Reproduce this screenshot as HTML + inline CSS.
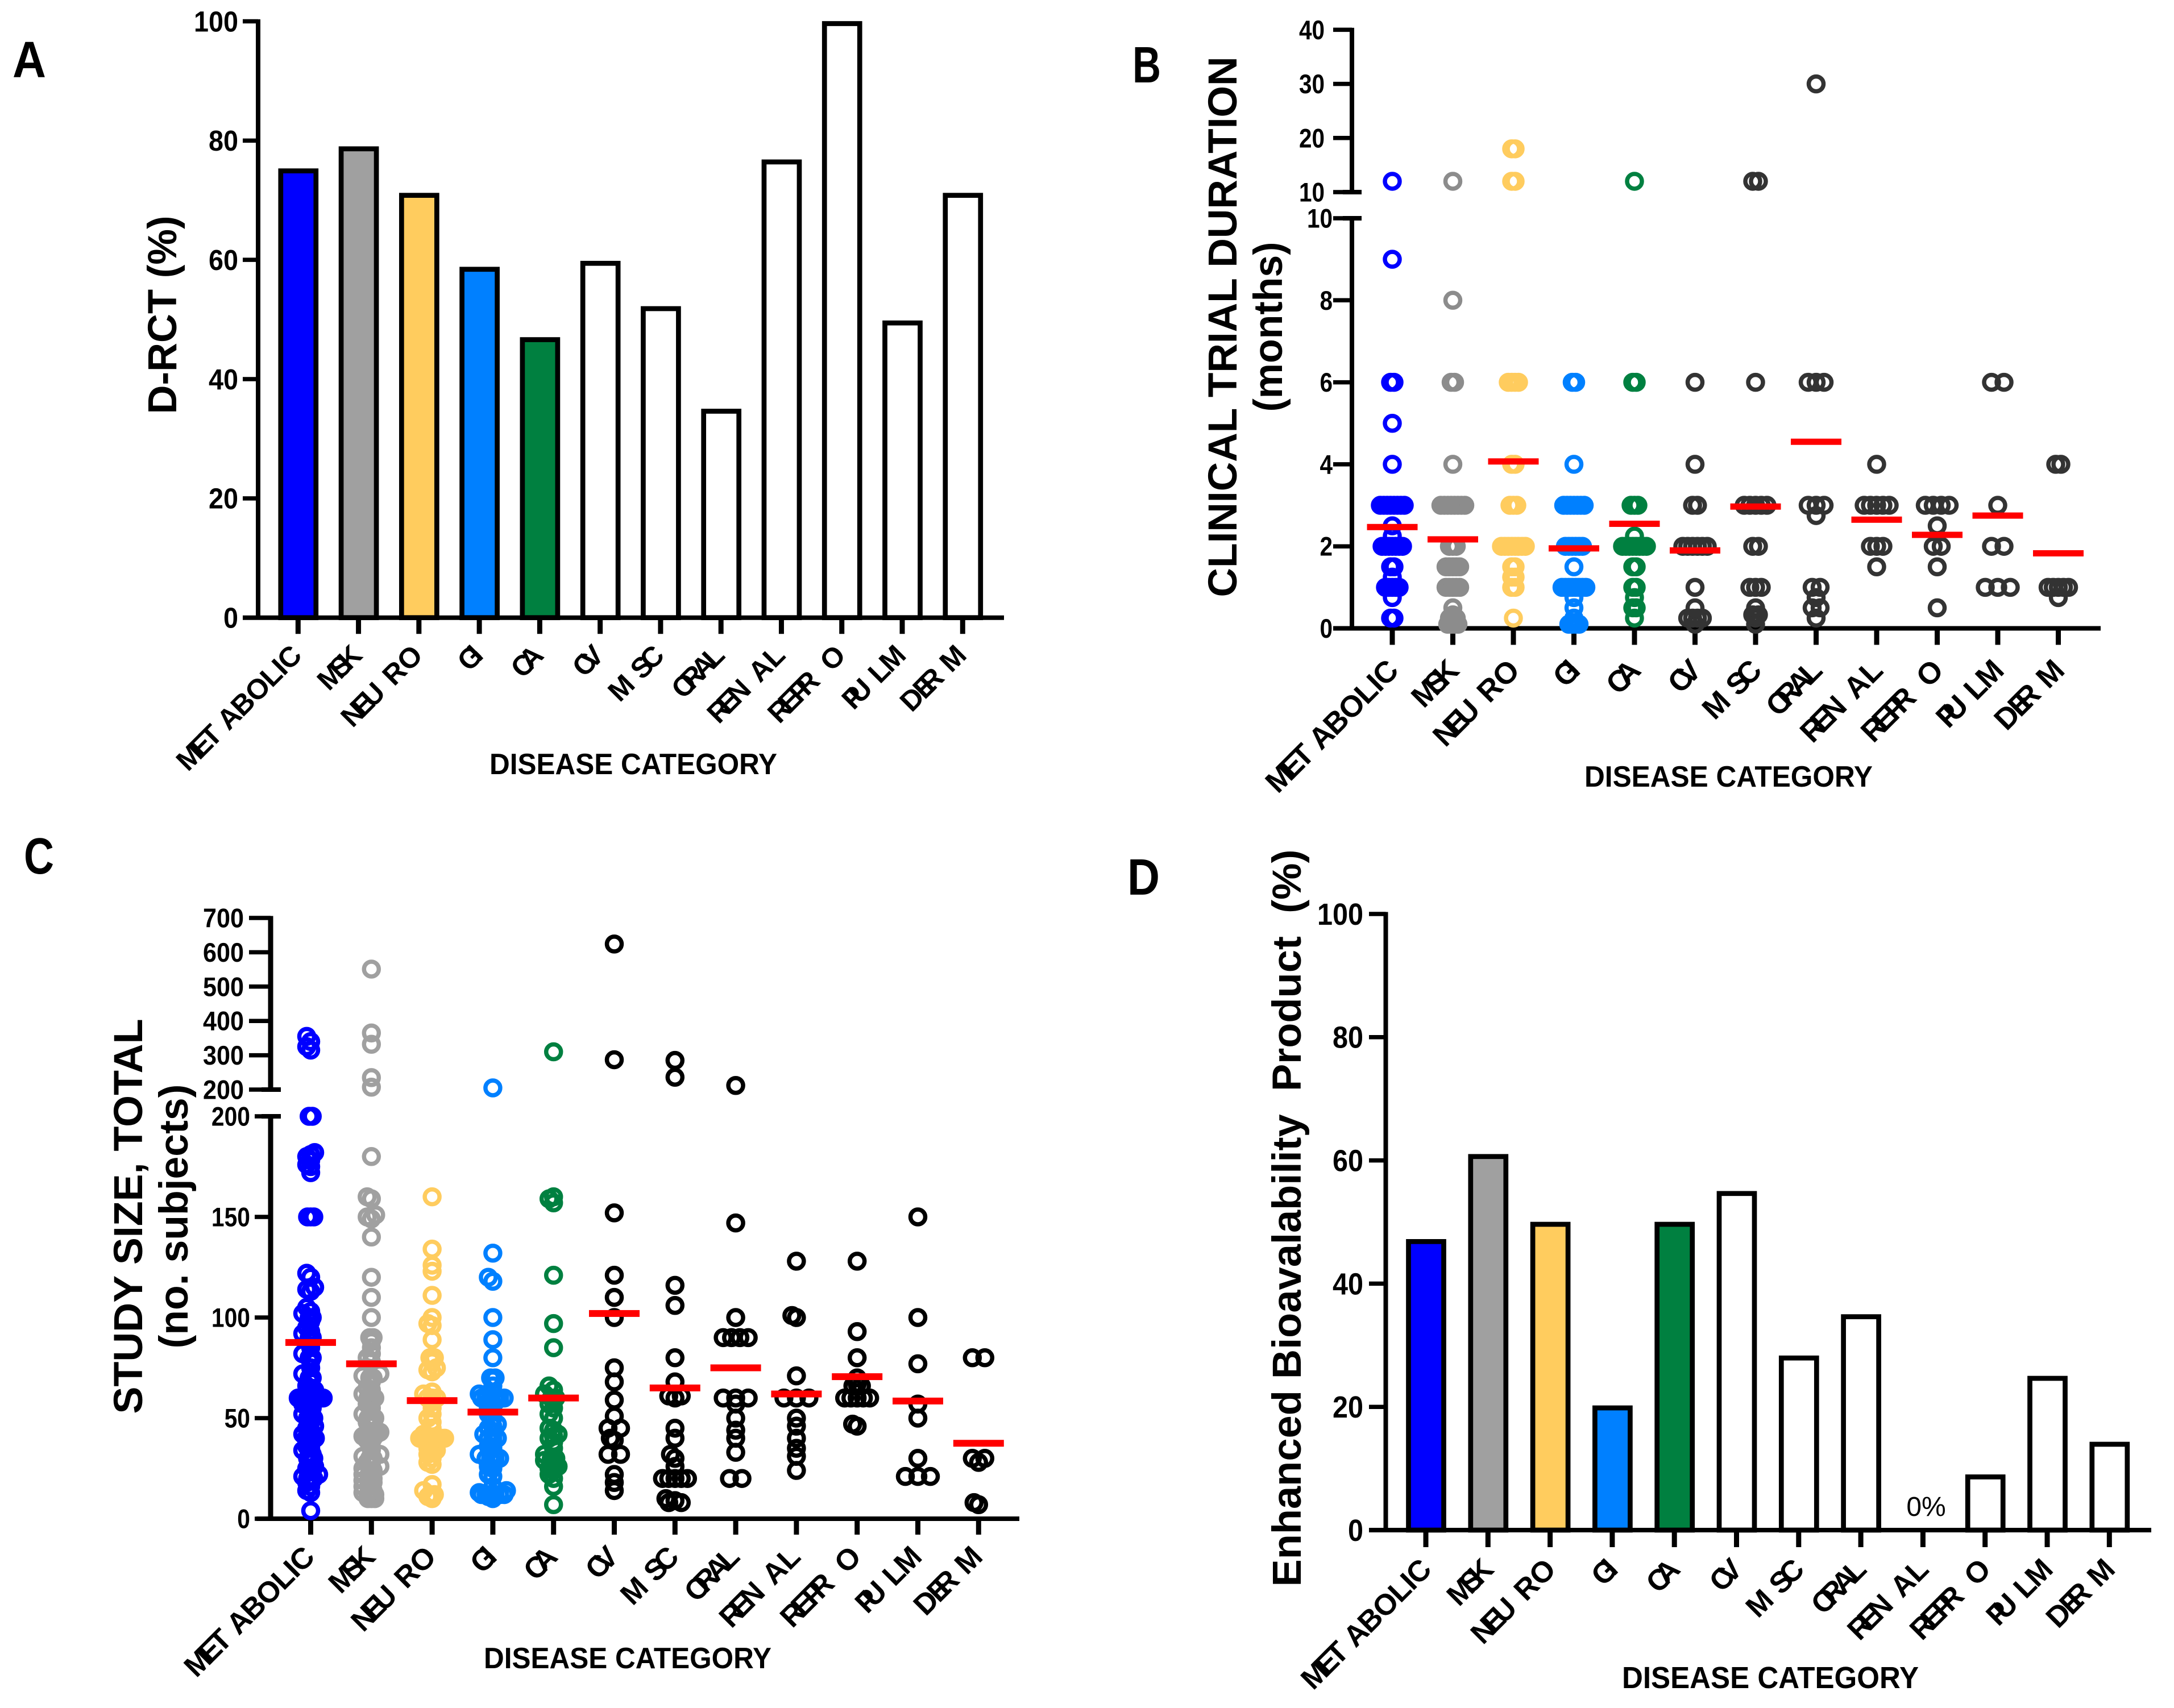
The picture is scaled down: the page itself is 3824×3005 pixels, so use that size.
<!DOCTYPE html>
<html lang="en">
<head>
<meta charset="utf-8">
<title>Clinical trial characteristics by disease category</title>
<style>
html,body{margin:0;padding:0;background:#fff;}
svg{display:block;font-family:"Liberation Sans",sans-serif;}
text{white-space:pre;}
</style>
</head>
<body>
<svg id="figure" xmlns="http://www.w3.org/2000/svg" width="3824" height="3005" viewBox="0 0 3824 3005"></svg>
<script>
// ---------- chart data ----------
const categories = ["MET ABOLIC","MSK","NEU RO","GI","CA","CV","M SC","ORAL","REN AL","REPR O","PU LM","DER M"];

const aValues = [75.3,79,71.2,58.8,47,59.8,52.2,35,76.8,100,49.8,71.2];
const aTicks = [0,20,40,60,80,100];

const dValues = [47.2,61,50,20.2,50,55,28.3,35,0,9,25,14.3];
const dTicks = [0,20,40,60,80,100];

const bTicksLow = [0,2,4,6,8,10];
const bTicksHigh = [10,20,30,40];
const bMeans = [2.47,2.17,4.07,1.95,2.55,1.9,2.97,4.55,2.65,2.28,2.75,1.83];
const bMetabolic = [12,9,6,6,5,4,3,3,3,3,3,3,3,3,2.5,2.25,2,2,2,2,2,2,2,1.5,1.5,1.25,1,1,1,1,1,0.75,0.25,0.25];
const bMsk = [12,8,6,6,4,3,3,3,3,3,3,3,3,2,2,2,1.5,1.5,1.5,1.5,1.5,1,1,1,1,1,0.5,0.33,0.25,0.25,0.25,0.17,0.1,0.1,0.1,0.1];
const bNeuro = [18,18,12,12,6,6,6,6,4,4,3,3,3,2,2,2,2,2,2,2,2,1.5,1.5,1.25,1.25,1,1,0.25];
const bGi = [6,6,4,3,3,3,3,3,3,3,2,2,2,2,2,2,1.5,1,1,1,1,1,1,1,1,0.75,0.5,0.25,0.1,0.1,0.1,0.1];
const bCa = [12,6,6,3,3,3,2.25,2,2,2,2,2,2,2,2,1.5,1.5,1,1,0.75,0.5,0.5,0.25];
const bCv = [6,4,3,3,2,2,2,2,2,2,1,0.5,0.25,0.25,0.25,0.25,0.1];
const bMsc = [12,12,6,3,3,3,3,3,2,2,1,1,1,0.5,0.33,0.33,0.25,0.1];
const bOral = [30,6,6,6,3,3,3,2.75,1,1,0.75,0.5,0.5,0.25];
const bRenal = [4,3,3,3,3,3,2,2,2,1.5];
const bRepro = [3,3,3,3,2.5,2,2,1.5,0.5];
const bPulm = [6,6,3,2,2,1,1,1];
const bDerm = [4,4,1,1,1,1,1,0.75];
const bSeries = [bMetabolic,bMsk,bNeuro,bGi,bCa,bCv,bMsc,bOral,bRenal,bRepro,bPulm,bDerm];

const cTicksLow = [0,50,100,150,200];
const cTicksHigh = [200,300,400,500,600,700];
const cMeans = [87.6,77,58.7,53,60,102,65,75,62,70.6,58.5,37.5];
const cMetabolic = [355,340,325,315,200,200,182,181,180,178,176,175,172,150,150,150,122,120,115,114,113,105,103,102,100,100,98,95,93,92,90,90,88,85,82,80,80,78,75,72,70,70,68,66,65,64,63,62,60,60,60,60,60,60,60,60,60,60,60,60,58,58,57,55,55,52,50,50,50,48,46,45,44,42,40,40,40,40,38,36,35,34,32,32,30,30,30,28,28,26,25,24,22,21,20,20,20,18,16,14,13,4];
const cMsk = [551,365,332,235,207,180,160,159,151,150,149,140,120,110,100,90,90,88,85,82,80,78,72,71,70,70,68,65,64,62,60,60,60,58,57,55,52,50,50,50,48,46,43,42,42,42,42,41,40,40,39,38,34,32,31,30,30,28,27,26,25,24,24,23,22,20,20,19,18,18,17,16,14,14,13,12,12,12,11,11,10,10,10];
const cNeuro = [160,134,126,123,111,100,97,96,89,80,80,78,75,74,73,63,62,60,60,60,58,55,52,50,48,45,42,40,40,40,40,40,40,40,40,38,38,37,36,35,34,33,32,30,28,27,17,14,12,12,11,10];
const cGi = [205,132,120,118,100,89,80,70,70,69,66,63,62,60,60,60,60,60,60,59,58,57,55,54,52,50,47,46,45,43,42,40,40,40,38,36,35,32,30,30,30,30,28,26,25,22,21,16,14,13,12,12,12,12,12,12,11,10];
const cCa = [310,160,159,157,121,97,85,66,64,62,60,60,58,57,55,52,50,45,44,42,41,40,38,35,32,30,30,29,28,28,27,26,25,24,22,20,16,7];
const cCv = [624,287,152,121,110,100,75,68,59,51,45,45,40,39,32,32,22,18,14];
const cMsc = [285,236,116,106,80,68,61,61,60,45,40,32,30,26,20,20,20,20,20,10,9,8,8];
const cOral = [212,147,100,90,90,90,90,60,60,60,57,50,44,40,33,20,20];
const cRenal = [128,101,100,71,60,60,60,50,46,40,35,31,24];
const cRepro = [128,93,80,70,66,66,67,60,60,60,60,60,47,46];
const cPulm = [150,100,77,57,50,30,21,21,21];
const cDerm = [80,80,30,30,28,8,7];
const cSeries = [cMetabolic,cMsk,cNeuro,cGi,cCa,cCv,cMsc,cOral,cRenal,cRepro,cPulm,cDerm];

// ---------- drawing helpers ----------
const NS = "http://www.w3.org/2000/svg";
const svg = document.getElementById("figure");
const labelDx = ["0 -8 -8 0 0 -2 -1 -1 -1 -1","0 -12 -12","0 -10 -10 4 0 0","0 -14","0 -16","0 -16","0 0 0 -10","0 -16 -10 -8","0 -12 -9 6 0 0","0 -10 -8 -16 10 1","0 -18 0 0 -3","0 -4 -17 0 0"];
const barFills = ["#0000ff","#a0a0a0","#ffcc5e","#0080ff","#008040","#fff","#fff","#fff","#fff","#fff","#fff","#fff"];
const ringB = ["#0000ff","#8c8c8c","#ffcc5e","#0080ff","#008040","#333","#333","#333","#333","#333","#333","#333"];
const ringC = ["#0000ff","#a0a0a0","#ffcc5e","#0080ff","#008040","#000","#000","#000","#000","#000","#000","#000"];
const bStep = [6,6,6,6,6,8.6,10,14,11,14,22,9];
const cTieStep = [5.5,6,8,8,8,22,22,22,22,15,22,22];
const cSlotStep = [7,7.5,7.5,8,8,7,8,8,8,8,8,8];

function make(tag, attrs, parent){
  const node = document.createElementNS(NS, tag);
  for (const k in attrs) node.setAttribute(k, attrs[k]);
  parent.appendChild(node);
  return node;
}
function slug(s){ return s.toLowerCase().replace(/[^a-z0-9]+/g,'-').replace(/^-|-$/g,''); }

function group(name, parent){
  const g = make('g', {}, parent);
  
  
  return g;
}
function seg(x1,y1,x2,y2,w,name,parent){
  const l = make('line', {x1:x1,y1:y1,x2:x2,y2:y2,stroke:'#000','stroke-width':w}, parent);
  
  
  return l;
}
function label(x,y,str,size,weight,anchor,name,parent,extra){
  const t = make('text', Object.assign({x:x,y:y,'font-size':size,'font-weight':weight,'text-anchor':anchor,fill:'#000'}, extra||{}), parent);
  t.textContent = str;
  
  
  return t;
}
function panelLetter(x,base,str,len,name,parent){
  return label(x,base,str,90,'bold','start',name,parent,{textLength:len,lengthAdjust:'spacingAndGlyphs'});
}
function vTitle(baseX,centerY,str,size,len,name,parent){
  return label(0,0,str,size,'bold','middle',name,parent,{transform:'translate('+baseX+' '+centerY+') rotate(-90)',textLength:len,lengthAdjust:'spacingAndGlyphs'});
}
function hTitle(x1,x2,base,size,parent){
  return label((x1+x2)/2,base,'DISEASE CATEGORY',size,'bold','middle','x-axis-title',parent,{textLength:x2-x1,lengthAdjust:'spacingAndGlyphs'});
}
function xAxis(p, parent){
  const g = group('x-axis', parent);
  seg(p.xLeft,p.y0,p.xRight,p.y0,8,'x-axis-line',g);
  categories.forEach(function(c,i){
    const x = p.x(i);
    seg(x,p.y0,x,p.y0+p.xTick,9,'x-tick-'+slug(c),g);
    const px = x+p.lblDx, py = p.y0+p.lblDy;
    label(0,0,c,50,'bold','end','category-label-'+slug(c),g,{transform:'translate('+px+' '+py+') rotate(-45) scale('+p.lblScale+')',dx:labelDx[i]});
  });
}
function yTicks(ticks,scale,axisX,left,labelRight,size,digitW,parent,prefix){
  ticks.forEach(function(v){
    const y = scale(v);
    seg(left,y,axisX,y,7.5,prefix+'-tick-'+v,parent);
    const s = String(v);
    label(labelRight,y+size*0.35,s,size,'bold','end',prefix+'-label-'+v,parent,{textLength:s.length*digitW,lengthAdjust:'spacingAndGlyphs'});
  });
}
function bars(values,p,parent){
  values.forEach(function(v,i){
    if (v<=0) return;
    const top = p.y(v)+4, x=p.x(i)+0.5;
    const r = make('rect',{x:x-31,y:top,width:62,height:p.y0-top,fill:barFills[i],stroke:'#000','stroke-width':8.7},parent);
    
    
  });
}
function ring(x,y,color,name,parent){
  const c = make('circle',{cx:x,cy:y,r:13,fill:'none',stroke:color,'stroke-width':7.5},parent);
  
  
}
function meanLine(x,y,name,parent,thick){
  const r = make('rect',{x:x-44.5,y:y-thick/2,width:89,height:thick,fill:'#ff0000'},parent);
  
  
}
function tieGroups(values){
  const sorted = values.slice().sort(function(a,b){return a-b;});
  const out = [];
  sorted.forEach(function(v){
    const last = out[out.length-1];
    if (last && last.v===v) last.n++; else out.push({v:v,n:1});
  });
  return out;
}
// panel B: equal values are spread symmetrically with a per-category step
function layoutTies(values,step){
  const pts = [];
  tieGroups(values).forEach(function(t){
    for (let k=0;k<t.n;k++) pts.push({v:t.v,off:(k-(t.n-1)/2)*step});
  });
  return pts;
}
// panel C: ties spread symmetrically, near neighbours take the free slot nearest the centre
function layoutSwarm(values,yFn,tieStep,slotStep){
  const pts = [], placed = [], slots = [0,-1,1,-2,2,-3,3];
  tieGroups(values).forEach(function(t){
    const y = yFn(t.v);
    if (t.n>1){
      const sp = Math.min(tieStep, 44/(t.n-1));
      for (let k=0;k<t.n;k++){
        const off=(k-(t.n-1)/2)*sp;
        pts.push({v:t.v,off:off});
        placed.push({y:y,off:off});
      }
    } else {
      let best=0, bestHits=1e9;
      slots.forEach(function(s){
        let hits=0;
        const o = s*slotStep;
        placed.forEach(function(q){ if (Math.abs(q.y-y)<10 && Math.abs(q.off-o)<5) hits++; });
        if (hits<bestHits){bestHits=hits;best=o;}
      });
      pts.push({v:t.v,off:best});
      placed.push({y:y,off:best});
    }
  });
  return pts;
}

// ---------- Panel A ----------
(function(){
  const root = group('panel-a', svg);
  const y0=1086.7, k=(1086.7-37.5)/100;
  const p = {y0:y0,y:function(v){return y0-v*k;},x:function(i){return 524.3+i*106.27;},xLeft:427,xRight:1766,xTick:28.5,lblDx:9.5,lblDy:69,lblScale:1};
  panelLetter(22,136,'A',59,'panel-label-a',root);
  vTitle(310,554,'D-RCT (%)',71,349,'y-axis-title',root);
  bars(aValues,p,group('bars',root));
  const ya = group('y-axis',root);
  seg(454,p.y(100)-3.5,454,y0,8,'y-axis-line',ya);
  yTicks(aTicks,p.y,454,427,419,51,26,ya,'y');
  xAxis(p,root);
  hTitle(861,1367,1362,52,root);
})();

// ---------- Panel B ----------
(function(){
  const root = group('panel-b', svg);
  const y0=1105.5, kLow=72.15, topBase=338, kHigh=9.52;
  const yLow=function(v){return y0-v*kLow;};
  const yHigh=function(v){return topBase-(v-10)*kHigh;};
  const y=function(v){return v>10?yHigh(v):yLow(v);};
  const p = {y0:y0,y:y,x:function(i){return 2449+i*106.5;},xLeft:2345,xRight:3695,xTick:29,lblDx:14,lblDy:77,lblScale:1.06};
  panelLetter(1992,145,'B',50,'panel-label-b',root);
  vTitle(2175,575,'CLINICAL TRIAL DURATION',71,951,'y-axis-title',root);
  vTitle(2255,575,'(months)',71,299,'y-axis-subtitle',root);
  const ya = group('y-axis',root);
  seg(2378,yHigh(40)-3.5,2378,topBase,8,'y-axis-upper-line',ya);
  seg(2378,yLow(10),2378,y0,8,'y-axis-lower-line',ya);
  yTicks(bTicksHigh,yHigh,2378,2345,2330,47,22.5,ya,'y-upper');
  yTicks(bTicksLow,yLow,2378,2345,2344,47,22.5,ya,'y-lower');
  seg(2362,topBase,2395,topBase,8,'axis-break-upper',ya);
  seg(2362,yLow(10),2395,yLow(10),8,'axis-break-lower',ya);
  xAxis(p,root);
  bSeries.forEach(function(vals,i){
    const g = group('series-'+slug(categories[i]),root);
    layoutTies(vals,bStep[i]).forEach(function(pt){
      ring(p.x(i)+pt.off,y(pt.v),ringB[i],'point-'+slug(categories[i]),g);
    });
    meanLine(p.x(i),yLow(bMeans[i]),'mean-'+slug(categories[i]),g,11);
  });
  hTitle(2787,3294,1384,52,root);
})();

// ---------- Panel C ----------
(function(){
  const root = group('panel-c', svg);
  const y0=2672, kLow=3.54, topBase=1917, kHigh=0.604;
  const yLow=function(v){return y0-v*kLow;};
  const yHigh=function(v){return topBase-(v-200)*kHigh;};
  const y=function(v){return v>200?yHigh(v):yLow(v);};
  const p = {y0:y0,y:y,x:function(i){return 546.5+i*106.8;},xLeft:451,xRight:1793,xTick:28,lblDx:10,lblDy:70,lblScale:1.04};
  panelLetter(42,1537,'C',53,'panel-label-c',root);
  vTitle(250,2140,'STUDY SIZE, TOTAL',71,695,'y-axis-title',root);
  vTitle(330,2140,'(no. subjects)',71,465,'y-axis-subtitle',root);
  const ya = group('y-axis',root);
  seg(476,yHigh(700)-3.5,476,topBase,9,'y-axis-upper-line',ya);
  seg(476,yLow(200),476,y0,9,'y-axis-lower-line',ya);
  yTicks(cTicksHigh,yHigh,476,438,429,47,24,ya,'y-upper');
  yTicks(cTicksLow,yLow,476,448,440,47,22.7,ya,'y-lower');
  seg(460,topBase,494,topBase,8,'axis-break-upper',ya);
  seg(460,yLow(200),494,yLow(200),8,'axis-break-lower',ya);
  xAxis(p,root);
  cSeries.forEach(function(vals,i){
    const g = group('series-'+slug(categories[i]),root);
    layoutSwarm(vals,y,cTieStep[i],cSlotStep[i]).forEach(function(pt){
      ring(p.x(i)+pt.off,y(pt.v),ringC[i],'point-'+slug(categories[i]),g);
    });
    meanLine(p.x(i),yLow(cMeans[i]),'mean-'+slug(categories[i]),g,12);
  });
  hTitle(851,1357,2935,52,root);
})();

// ---------- Panel D ----------
(function(){
  const root = group('panel-d', svg);
  const y0=2692, k=10.84;
  const p = {y0:y0,y:function(v){return y0-v*k;},x:function(i){return 2508+i*109.3;},xLeft:2408,xRight:3784,xTick:30,lblDx:13,lblDy:72,lblScale:1.04};
  panelLetter(1983,1574,'D',57,'panel-label-d',root);
  vTitle(2288,2143,'Enhanced Bioavalability  Product  (%)',71,1297,'y-axis-title',root);
  bars(dValues,p,group('bars',root));
  const ya = group('y-axis',root);
  seg(2437.5,p.y(100)-3.5,2437.5,y0,8,'y-axis-line',ya);
  yTicks(dTicks,p.y,2437.5,2408,2398,54,27,ya,'y');
  xAxis(p,root);
  label(3388,2667,dValues[8]+'%',48,'normal','middle','renal-zero-percent-label',root);
  hTitle(2853,3375,2970,54,root);
})();
</script>
</body>
</html>
